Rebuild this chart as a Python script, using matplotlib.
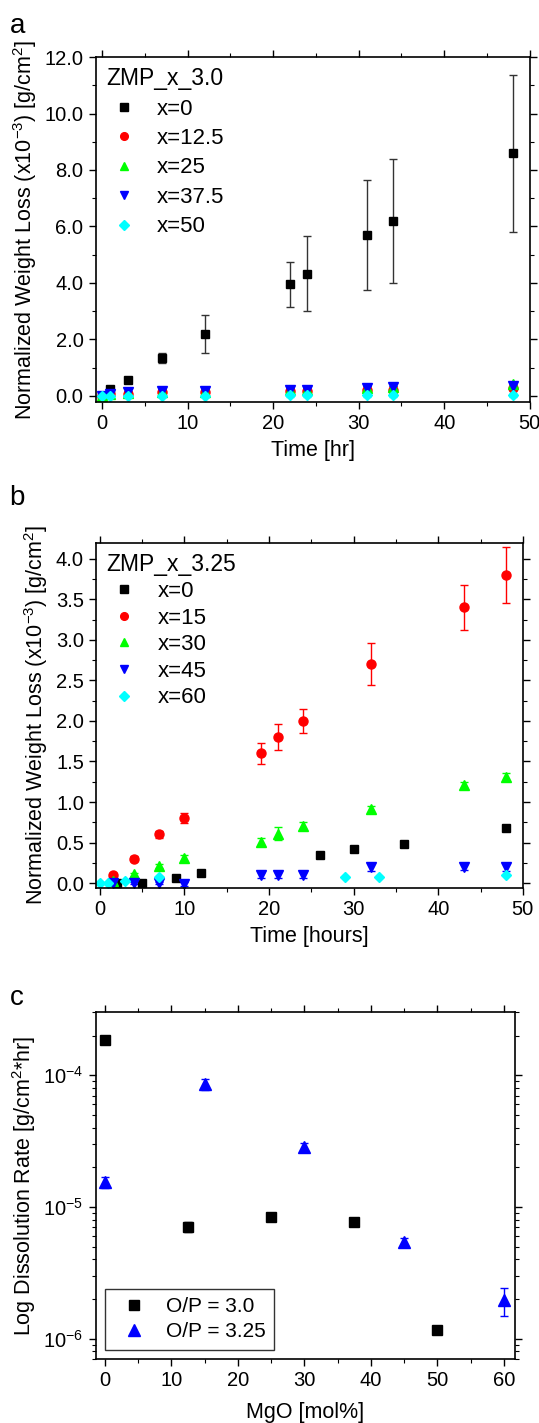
import numpy as np
import matplotlib.pyplot as plt
from matplotlib.ticker import MultipleLocator, FormatStrFormatter

plt.rcParams['font.family'] = ['Liberation Sans', 'DejaVu Sans']
plt.rcParams['mathtext.fontset'] = 'custom'
plt.rcParams['mathtext.rm'] = 'Liberation Sans'
plt.rcParams['mathtext.default'] = 'regular'
plt.rcParams['axes.unicode_minus'] = False

# ---- panel a: ZMP_x_3.0 ----
t_a = [0, 1, 3, 7, 12, 22, 24, 31, 34, 48]
a_labels = ['x=0', 'x=12.5', 'x=25', 'x=37.5', 'x=50']
a_x0 = [0.0, 0.24, 0.55, 1.33, 2.18, 3.95, 4.33, 5.69, 6.2, 8.59]
a_x0_err = [0.02, 0.03, 0.05, 0.18, 0.68, 0.8, 1.34, 1.95, 2.2, 2.77]
a_x125 = [0.0, 0.05, 0.08, 0.12, 0.12, 0.17, 0.17, 0.2, 0.22, 0.28]
a_x25 = [0.0, 0.06, 0.1, 0.15, 0.15, 0.22, 0.22, 0.28, 0.3, 0.4]
a_x375 = [0.0, 0.08, 0.12, 0.18, 0.18, 0.22, 0.22, 0.28, 0.3, 0.35]
a_x50 = [0.0, 0.0, 0.01, 0.0, 0.01, 0.02, 0.02, 0.02, 0.02, 0.03]
a_small_err = [0.02, 0.03, 0.04, 0.05, 0.05, 0.05, 0.05, 0.06, 0.06, 0.07]

# ---- panel b: ZMP_x_3.25 ----
b_labels = ['x=0', 'x=15', 'x=30', 'x=45', 'x=60']
t_b0 = [2, 5, 9, 12, 26, 30, 36, 48]
b_x0 = [0.0, 0.0, 0.06, 0.12, 0.35, 0.42, 0.48, 0.68]
t_b15 = [1.5, 4, 7, 10, 19, 21, 24, 32, 43, 48]
b_x15 = [0.1, 0.3, 0.6, 0.8, 1.6, 1.8, 2.0, 2.7, 3.4, 3.8]
b_x15_err = [0.02, 0.03, 0.04, 0.06, 0.125, 0.16, 0.15, 0.26, 0.28, 0.34]
t_b30 = [1.5, 4, 7, 10, 19, 21, 24, 32, 43, 48]
b_x30 = [0.03, 0.11, 0.21, 0.31, 0.51, 0.61, 0.71, 0.91, 1.21, 1.31]
b_x30_err = [0.01, 0.02, 0.03, 0.04, 0.05, 0.08, 0.04, 0.04, 0.04, 0.05]
t_b45 = [1.5, 4, 7, 10, 19, 21, 24, 32, 43, 48]
b_x45 = [0.0, 0.0, 0.0, -0.01, 0.1, 0.1, 0.1, 0.2, 0.2, 0.2]
b_x45_err = [0.01, 0.01, 0.01, 0.02, 0.04, 0.04, 0.04, 0.05, 0.04, 0.05]
t_b60 = [0, 1, 3, 7, 29, 33, 48]
b_x60 = [0.0, 0.0, 0.02, 0.07, 0.07, 0.08, 0.1]

# ---- panel c: dissolution rates ----
mgo_30 = [0, 12.5, 25, 37.5, 50]
rate_30 = [1.84e-4, 7.05e-6, 8.4e-6, 7.65e-6, 1.17e-6]
rate_30_err = [0.1e-4, 0.6e-6, 0.5e-6, 0.5e-6, 0.05e-6]
mgo_325 = [0, 15, 30, 45, 60]
rate_325 = [1.55e-5, 8.5e-5, 2.85e-5, 5.4e-6, 1.95e-6]
rate_325_err = [0.15e-5, 0.8e-5, 0.2e-5, 0.4e-6, 0.46e-6]

colors = ['black', '#ff0000', '#00ff00', '#0000ff', '#00ffff']
markers = ['s', 'o', '^', 'v', 'D']
msizes = [6, 6.5, 6.5, 6.5, 5.5]

fig = plt.figure(figsize=(5.39, 14.23), dpi=100)
ax_a = fig.add_axes([0.178, 0.7175, 0.805, 0.2424])
ax_b = fig.add_axes([0.179, 0.376, 0.791, 0.2427])
ax_c = fig.add_axes([0.178, 0.045, 0.777, 0.2436])


def style_axis(ax):
    ax.tick_params(which='both', direction='out', top=True, right=True,
                   labelsize=14.5, pad=4)
    ax.tick_params(which='major', length=5, width=1)
    ax.tick_params(which='minor', length=3, width=0.8)
    for sp in ax.spines.values():
        sp.set_linewidth(1.2)


def group_legend(ax, title, spacing):
    h, l = ax.get_legend_handles_labels()
    h = [hh[0] for hh in h]
    leg = ax.legend(h, l, title=title, loc='upper left', frameon=False,
                    fontsize=16, title_fontsize=16.5, handletextpad=0.7,
                    labelspacing=spacing, borderaxespad=0.15, borderpad=0.3,
                    markerscale=0.85, handlelength=1.6)
    leg._legend_box.align = 'left'


# panel a
a_series = [a_x0, a_x125, a_x25, a_x375, a_x50]
a_errs = [a_x0_err, a_small_err, a_small_err, a_small_err, a_small_err]
for i in range(5):
    ecol = '#333333' if i == 0 else colors[i]
    ax_a.errorbar(t_a, a_series[i], yerr=a_errs[i], fmt=markers[i],
                  color=colors[i], ecolor=ecol, ms=msizes[i], capsize=3,
                  elinewidth=1, capthick=1, label=a_labels[i])
ax_a.set_xlim(-0.7, 50)
ax_a.set_ylim(-0.22, 12.0)
ax_a.xaxis.set_major_locator(MultipleLocator(10))
ax_a.xaxis.set_minor_locator(MultipleLocator(5))
ax_a.yaxis.set_major_locator(MultipleLocator(2))
ax_a.yaxis.set_minor_locator(MultipleLocator(1))
ax_a.yaxis.set_major_formatter(FormatStrFormatter('%.1f'))
ax_a.set_xlabel('Time [hr]', fontsize=15.5, labelpad=5)
ax_a.set_ylabel('Normalized Weight Loss (x10$^{-3}$) [g/cm$^2$]', fontsize=15.5)
style_axis(ax_a)
group_legend(ax_a, 'ZMP_x_3.0', 0.38)

# panel b
b_times = [t_b0, t_b15, t_b30, t_b45, t_b60]
b_series = [b_x0, b_x15, b_x30, b_x45, b_x60]
b_errs = [None, b_x15_err, b_x30_err, b_x45_err, None]
for i in range(5):
    ax_b.errorbar(b_times[i], b_series[i], yerr=b_errs[i], fmt=markers[i],
                  color=colors[i], ecolor=colors[i], ms=msizes[i], capsize=3,
                  elinewidth=1, capthick=1, label=b_labels[i])
ax_b.set_xlim(-0.4, 50)
ax_b.set_ylim(-0.06, 4.2)
ax_b.xaxis.set_major_locator(MultipleLocator(10))
ax_b.xaxis.set_minor_locator(MultipleLocator(5))
ax_b.yaxis.set_major_locator(MultipleLocator(0.5))
ax_b.yaxis.set_minor_locator(MultipleLocator(0.25))
ax_b.yaxis.set_major_formatter(FormatStrFormatter('%.1f'))
ax_b.set_xlabel('Time [hours]', fontsize=15.5, labelpad=5)
ax_b.set_ylabel('Normalized Weight Loss (x10$^{-3}$) [g/cm$^2$]', fontsize=15.5)
style_axis(ax_b)
group_legend(ax_b, 'ZMP_x_3.25', 0.25)

# panel c
ax_c.errorbar(mgo_30, rate_30, yerr=rate_30_err, fmt='s', color='black',
              ms=7, capsize=3, elinewidth=1, label='O/P = 3.0')
ax_c.errorbar(mgo_325, rate_325, yerr=rate_325_err, fmt='^', color='#0000ff',
              ms=8, capsize=3, elinewidth=1, label='O/P = 3.25')
ax_c.set_yscale('log')
ax_c.set_xlim(-1.35, 61.65)
ax_c.set_ylim(7.0e-7, 3.0e-4)
ax_c.xaxis.set_major_locator(MultipleLocator(10))
ax_c.xaxis.set_minor_locator(MultipleLocator(5))
ax_c.set_xlabel('MgO [mol%]', fontsize=15.5, labelpad=8)
ax_c.set_ylabel('Log Dissolution Rate [g/cm$^2$*hr]', fontsize=15.5)
style_axis(ax_c)
h, l = ax_c.get_legend_handles_labels()
h = [hh[0] for hh in h]
leg = ax_c.legend(h, l, loc='lower left', fontsize=15, fancybox=False,
                  edgecolor='#333333', framealpha=1, borderaxespad=0.45,
                  handletextpad=0.5, labelspacing=0.3)
leg.get_frame().set_linewidth(1)

fig.text(0.018, 0.982, 'a', fontsize=20, va='center')
fig.text(0.018, 0.650, 'b', fontsize=20, va='center')
fig.text(0.018, 0.299, 'c', fontsize=20, va='center')

plt.savefig('out.png', dpi=100)
plt.close()
